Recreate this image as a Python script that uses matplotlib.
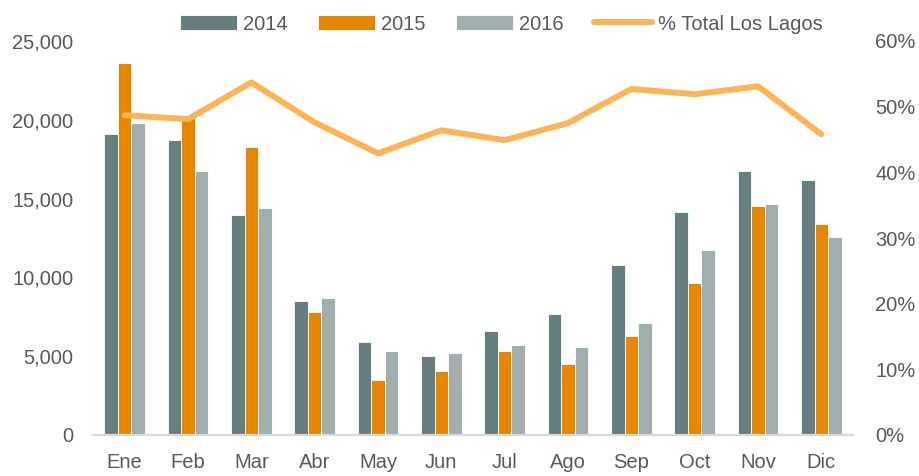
import matplotlib
matplotlib.use("Agg")
import matplotlib.pyplot as plt
import numpy as np
from matplotlib import font_manager
from matplotlib.ticker import FuncFormatter, MultipleLocator

months = ["Ene", "Feb", "Mar", "Abr", "May", "Jun", "Jul", "Ago", "Sep", "Oct", "Nov", "Dic"]
v2014 = [19100, 18700, 13950, 8520, 5880, 5030, 6600, 7700, 10770, 14130, 16750, 16200]
v2015 = [23600, 20100, 18270, 7830, 3490, 4060, 5330, 4480, 6280, 9620, 14530, 13410]
v2016 = [19800, 16750, 14380, 8670, 5330, 5180, 5730, 5600, 7130, 11720, 14660, 12560]
pct_total = [48.7, 48.1, 53.7, 47.6, 42.9, 46.4, 44.9, 47.5, 52.7, 51.9, 53.1, 45.8]

available = {f.name for f in font_manager.fontManager.ttflist}
fam = "Liberation Sans Narrow" if "Liberation Sans Narrow" in available else "Liberation Sans"
plt.rcParams["font.family"] = [fam, "DejaVu Sans"]
fs = 14.5

c14, c15, c16, cl = "#677E80", "#E88600", "#A0AEAD", "#FFB357"
txt = "#595959"

fig = plt.figure(figsize=(9.19, 4.76), dpi=100)
ax = fig.add_axes([93/919, 41/476, 760/919, 1 - 82/476])
x = np.arange(len(months))
w = 0.215
ax.bar(x - w, v2014, w, color=c14, edgecolor="white", linewidth=0.6, label="2014")
ax.bar(x, v2015, w, color=c15, edgecolor="white", linewidth=0.6, label="2015")
ax.bar(x + w, v2016, w, color=c16, edgecolor="white", linewidth=0.6, label="2016")
ax.set_xlim(-0.5, 11.5)
ax.set_ylim(0, 25000)
ax.yaxis.set_major_locator(MultipleLocator(5000))
ax.yaxis.set_major_formatter(FuncFormatter(lambda v, p: f"{int(v):,}"))
ax.set_xticks(x)
ax.set_xticklabels(months)
for s in ["top", "right", "left"]:
    ax.spines[s].set_visible(False)
ax.spines["bottom"].set_color("#D9D9D9")
ax.spines["bottom"].set_linewidth(1.6)
ax.tick_params(axis="y", length=0, pad=14, labelsize=fs, labelcolor=txt)
ax.tick_params(axis="x", length=0, pad=13, labelsize=fs, labelcolor=txt)

ax2 = ax.twinx()
ax2.plot(x, pct_total, color=cl, linewidth=4.3, solid_capstyle="round", label="% Total Los Lagos")
ax2.set_ylim(0, 60)
ax2.yaxis.set_major_locator(MultipleLocator(10))
ax2.yaxis.set_major_formatter(FuncFormatter(lambda v, p: f"{int(v)}%"))
for s in ["top", "right", "left", "bottom"]:
    ax2.spines[s].set_visible(False)
ax2.tick_params(axis="y", length=0, pad=16, labelsize=fs, labelcolor=txt)

h1, l1 = ax.get_legend_handles_labels()
h2, l2 = ax2.get_legend_handles_labels()
leg = fig.legend(h1 + h2, l1 + l2, loc="center", bbox_to_anchor=(501/919, 1 - 24/476),
                 ncol=4, frameon=False, fontsize=fs, handlelength=2.85, handleheight=0.7,
                 columnspacing=1.5, handletextpad=0.3)
for t in leg.get_texts():
    t.set_color(txt)

fig.savefig("out.png", dpi=100)
